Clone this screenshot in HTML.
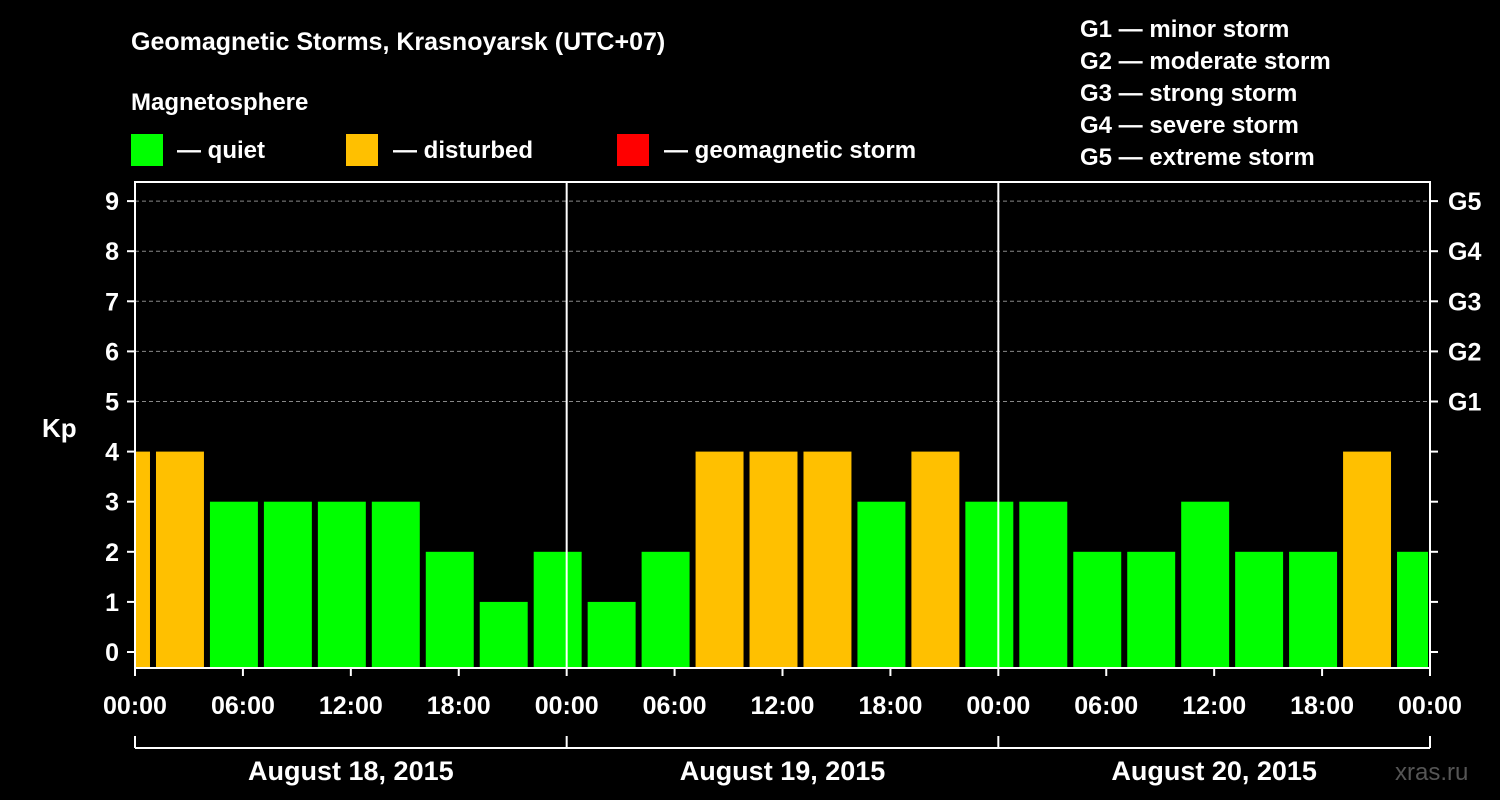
<!DOCTYPE html>
<html><head><meta charset="utf-8"><style>
html,body{margin:0;padding:0;background:#000;}
svg{display:block;font-family:"Liberation Sans",sans-serif;font-weight:bold;}
</style></head><body>
<svg id="chart" width="1500" height="800">
<rect width="1500" height="800" fill="#000"/>
<text x="131" y="50" fill="#fff" font-size="25">Geomagnetic Storms, Krasnoyarsk (UTC+07)</text>
<text x="131" y="110" fill="#fff" font-size="24">Magnetosphere</text>
<rect x="131" y="134" width="32" height="32" fill="#00ff00"/>
<text x="177" y="158" fill="#fff" font-size="24">— quiet</text>
<rect x="346" y="134" width="32" height="32" fill="#ffc000"/>
<text x="393" y="158" fill="#fff" font-size="24">— disturbed</text>
<rect x="617" y="134" width="32" height="32" fill="#ff0000"/>
<text x="664" y="158" fill="#fff" font-size="24">— geomagnetic storm</text>
<g fill="#fff" font-size="24">
<text x="1080" y="37">G1 — minor storm</text>
<text x="1080" y="69">G2 — moderate storm</text>
<text x="1080" y="101">G3 — strong storm</text>
<text x="1080" y="133">G4 — severe storm</text>
<text x="1080" y="165">G5 — extreme storm</text>
</g>
<text x="42" y="437" fill="#fff" font-size="26">Kp</text>
<text x="1395" y="780" fill="#555" font-size="24" font-weight="normal">xras.ru</text>
<g id="grid"></g><g id="bars"></g><g id="axes"></g>
</svg>
<script>
const kpValues=[4,4,3,3,3,3,2,1,2,1,2,4,4,4,3,4,3,3,2,2,3,2,2,4,2];
const binStartHours=[-2,1,4,7,10,13,16,19,22,25,28,31,34,37,40,43,46,49,52,55,58,61,64,67,70];
const yTicks=[0,1,2,3,4,5,6,7,8,9];
const gLabels=["G1","G2","G3","G4","G5"];
const xTickLabels=["00:00","06:00","12:00","18:00","00:00","06:00","12:00","18:00","00:00","06:00","12:00","18:00","00:00"];
const dayLabels=["August 18, 2015","August 19, 2015","August 20, 2015"];
const NS="http://www.w3.org/2000/svg";
const L=135,R=1430,T=182,B=668,totalH=72;
const x=h=>L+(R-L)*h/totalH;
const y=v=>652-50.1*v;
function mk(tag,attrs,parent,txt){const e=document.createElementNS(NS,tag);for(const k in attrs)e.setAttribute(k,attrs[k]);if(txt!==undefined)e.textContent=txt;parent.appendChild(e);return e;}
const grid=document.getElementById('grid'),bars=document.getElementById('bars'),axes=document.getElementById('axes');
for(let v=5;v<=9;v++){const l=mk('line',{x1:L,x2:R,y1:y(v),y2:y(v),stroke:'#888','stroke-dasharray':'4,3','stroke-width':1},grid);

}
kpValues.forEach((v,i)=>{
 let x0=x(binStartHours[i])+3,x1=x(binStartHours[i]+3)-3;
 x0=Math.max(x0,L+1);x1=Math.min(x1,R-2);
 const c=v>=5?'#ff0000':(v>=4?'#ffc000':'#00ff00');
 const r=mk('rect',{x:x0,y:y(v),width:x1-x0,height:B-1-y(v),fill:c},bars);
 
 
});
const frame=mk('rect',{x:L,y:T,width:R-L,height:B-T,fill:'none',stroke:'#fff','stroke-width':2},axes);


[24,48].forEach(h=>{const l=mk('line',{x1:x(h),x2:x(h),y1:T,y2:B,stroke:'#fff','stroke-width':2},axes);

});
yTicks.forEach(v=>{
 mk('line',{x1:L-8,x2:L,y1:y(v),y2:y(v),stroke:'#fff','stroke-width':2},axes);
 mk('line',{x1:R,x2:R+8,y1:y(v),y2:y(v),stroke:'#fff','stroke-width':2},axes);
 const t=mk('text',{x:L-16,y:y(v)+9,fill:'#fff','font-size':25,'text-anchor':'end'},axes,String(v));
 
 
});
gLabels.forEach((g,i)=>{const t=mk('text',{x:R+18,y:y(i+5)+9,fill:'#fff','font-size':25},axes,g);

});
xTickLabels.forEach((s,i)=>{const h=i*6;
 mk('line',{x1:x(h),x2:x(h),y1:B,y2:B+8,stroke:'#fff','stroke-width':2},axes);
 const t=mk('text',{x:x(h),y:714,fill:'#fff','font-size':25,'text-anchor':'middle'},axes,s);
 
 });
mk('line',{x1:L,x2:R,y1:748,y2:748,stroke:'#fff','stroke-width':2},axes);
[0,24,48,72].forEach(h=>mk('line',{x1:x(h),x2:x(h),y1:736,y2:748,stroke:'#fff','stroke-width':2},axes));
dayLabels.forEach((d,i)=>{const t=mk('text',{x:x(i*24+12),y:780,fill:'#fff','font-size':27,'text-anchor':'middle'},axes,d);

});
</script>
</body></html>
